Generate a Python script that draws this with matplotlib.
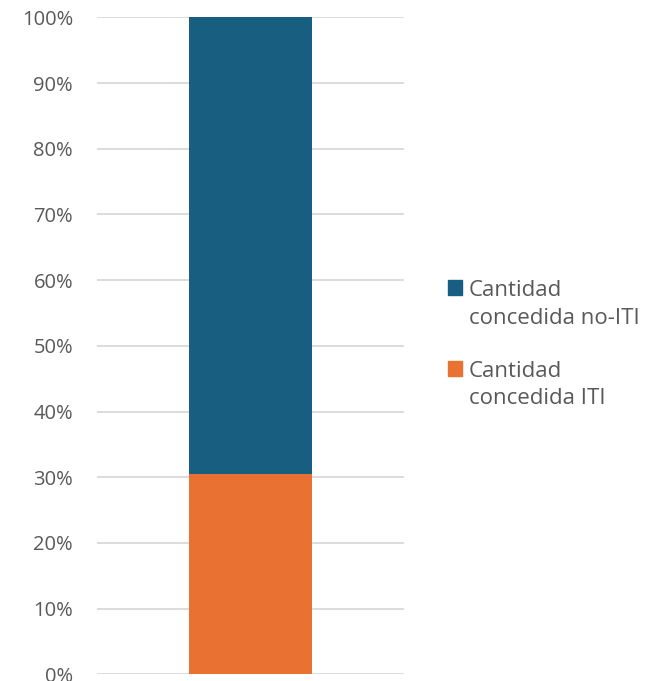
import numpy as np
import matplotlib.pyplot as plt
from matplotlib.patches import Patch
from matplotlib.ticker import PercentFormatter

plt.rcParams['font.family'] = ['Open Sans', 'DejaVu Sans']

categorias = ['']
series = ['Cantidad\nconcedida ITI', 'Cantidad\nconcedida no-ITI']
valores_iti = [30.5]
valores_no_iti = [69.5]
colores = ['#E97132', '#175E80']
ticks = np.arange(0, 101, 10)

fig = plt.figure(figsize=(6.53, 6.81), dpi=100)
ax = fig.add_axes([0.148, 0.0098, 0.471, 0.9648])

x = np.arange(len(categorias))
ax.bar(x, valores_iti, width=0.401, color=colores[0], zorder=3)
ax.bar(x, valores_no_iti, width=0.401, bottom=valores_iti, color=colores[1], zorder=3)

ax.set_xlim(-0.5, 0.5)
ax.set_ylim(0, 100)
ax.set_yticks(ticks)
ax.yaxis.set_major_formatter(PercentFormatter(decimals=0))
ax.set_xticks([])
ax.grid(axis='y', color='#D9D9D9', linewidth=1.3, zorder=0)
for s in ax.spines.values():
    s.set_visible(False)
ax.tick_params(axis='y', length=0, pad=17, labelsize=14.5, labelcolor='#595959')

handles = [Patch(color=colores[1]), Patch(color=colores[0])]
leg = fig.legend(handles, [series[1], series[0]], loc='upper left',
                 bbox_to_anchor=(0.655, 0.618), frameon=False, fontsize=16,
                 labelcolor='#595959', handlelength=0.65, handleheight=0.65,
                 handletextpad=0.3, labelspacing=1.45)
for t in leg.get_texts():
    t.set_linespacing(1.4)
# cuadrado alineado con la primera linea del texto
for col in leg._legend_handle_box.get_children():
    for row in col.get_children():
        row.align = 'top'

fig.savefig('out.png', dpi=100)
